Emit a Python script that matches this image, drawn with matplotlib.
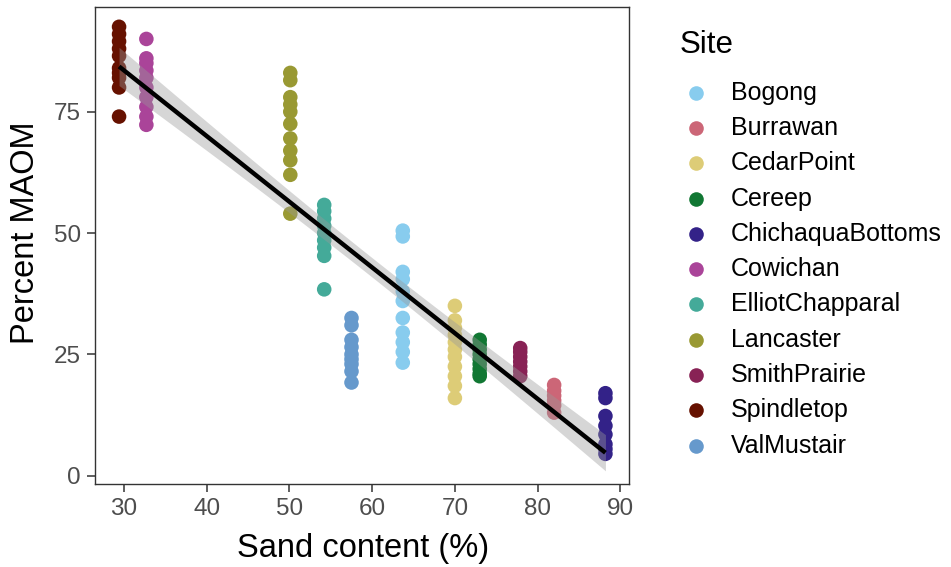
import numpy as np
import matplotlib
matplotlib.use("Agg")
import matplotlib.pyplot as plt
from matplotlib.lines import Line2D

plt.rcParams['font.family'] = ['Liberation Sans', 'DejaVu Sans']

# Sites, sand content (%) and percent MAOM per sample
sites = ['Bogong', 'Burrawan', 'CedarPoint', 'Cereep', 'ChichaquaBottoms',
         'Cowichan', 'ElliotChapparal', 'Lancaster', 'SmithPrairie',
         'Spindletop', 'ValMustair']
colors = ['#88CCEE', '#CC6677', '#DDCC77', '#117733', '#332288',
          '#AA4499', '#44AA99', '#999933', '#882255', '#661100', '#6699CC']
sand = [63.7, 82.0, 70.0, 73.0, 88.2, 32.7, 54.2, 50.1, 77.9, 29.4, 57.5]
maom = [
    [50.5, 49.3, 42.0, 40.5, 38.0, 36.0, 32.5, 29.5, 27.5, 25.5, 23.3],   # Bogong
    [18.7, 17.5, 16.5, 15.5, 14.5, 13.0],                                 # Burrawan
    [35.0, 32.0, 30.5, 29.0, 27.5, 26.0, 24.5, 22.5, 20.5, 18.5, 16.0],   # CedarPoint
    [28.0, 27.0, 26.0, 25.0, 24.0, 23.0, 22.0, 21.0, 20.5],               # Cereep
    [17.0, 16.0, 12.3, 10.3, 8.5, 6.5, 5.5, 4.5],                         # ChichaquaBottoms
    [90.0, 86.0, 85.0, 83.5, 82.0, 80.0, 78.0, 76.0, 74.0, 72.3],         # Cowichan
    [55.8, 54.5, 53.0, 51.5, 50.0, 48.5, 47.0, 45.3, 38.4],               # ElliotChapparal
    [83.0, 81.5, 78.0, 76.5, 75.0, 72.5, 69.5, 67.0, 65.0, 62.0, 54.0],   # Lancaster
    [26.3, 25.5, 24.5, 23.5, 22.5, 21.5, 20.5],                           # SmithPrairie
    [92.5, 91.0, 89.5, 88.0, 86.5, 84.0, 83.0, 82.0, 80.0, 74.0],         # Spindletop
    [32.5, 31.0, 28.0, 26.5, 25.0, 24.0, 23.0, 21.5, 19.2],               # ValMustair
]

x_ticks = [30, 40, 50, 60, 70, 80, 90]
y_ticks = [0, 25, 50, 75]

W, H = 951, 567
fig = plt.figure(figsize=(W / 100, H / 100), dpi=100)
ax = fig.add_axes([95 / W, 1 - 484 / H, (629 - 95) / W, (484 - 7) / H])

all_x, all_y = [], []
for site, c, sx, ys in zip(sites, colors, sand, maom):
    xs = np.full(len(ys), sx)
    ax.scatter(xs, ys, s=110, color=c, edgecolors='none', zorder=2)
    all_x.extend(xs)
    all_y.extend(ys)

# linear fit with 95% confidence band
all_x = np.array(all_x)
all_y = np.array(all_y)
n = len(all_x)
slope, icpt = np.polyfit(all_x, all_y, 1)
resid = all_y - (slope * all_x + icpt)
s_err = np.sqrt(np.sum(resid ** 2) / (n - 2))
xg = np.linspace(all_x.min(), all_x.max(), 100)
yg = slope * xg + icpt
se = s_err * np.sqrt(1 / n + (xg - all_x.mean()) ** 2 / np.sum((all_x - all_x.mean()) ** 2))
ax.fill_between(xg, yg - 1.98 * se, yg + 1.98 * se, color='#999999', alpha=0.4,
                linewidth=0, zorder=3)
ax.plot(xg, yg, color='black', linewidth=3.2, solid_capstyle='butt', zorder=4)

ax.set_xlim(26.49, 91.05)
ax.set_ylim(-1.71, 96.58)
ax.set_xticks(x_ticks)
ax.set_yticks(y_ticks)
ax.tick_params(labelsize=17.5, labelcolor='#4D4D4D', color='#333333',
               length=6, width=1.1, pad=4)
for sp in ax.spines.values():
    sp.set_color('#333333')
    sp.set_linewidth(1.0)

fig.text(363 / W, 1 - 548 / H, 'Sand content (%)', fontsize=23.5,
         ha='center', va='center')
fig.text(26 / W, 1 - 233 / H, 'Percent MAOM', fontsize=23.5,
         ha='center', va='center', rotation=90)

# legend
fig.text(680 / W, 1 - 45 / H, 'Site', fontsize=22.5, ha='left', va='center')
for i, (site, c) in enumerate(zip(sites, colors)):
    yy = 1 - (92.8 + i * 35.27) / H
    fig.add_artist(Line2D([696 / W], [yy], marker='o', markersize=10.5,
                          color=c, markeredgewidth=0, linestyle='none',
                          transform=fig.transFigure))
    fig.text(731 / W, yy, site, fontsize=18, ha='left', va='center')

fig.savefig('out.png', dpi=100)
